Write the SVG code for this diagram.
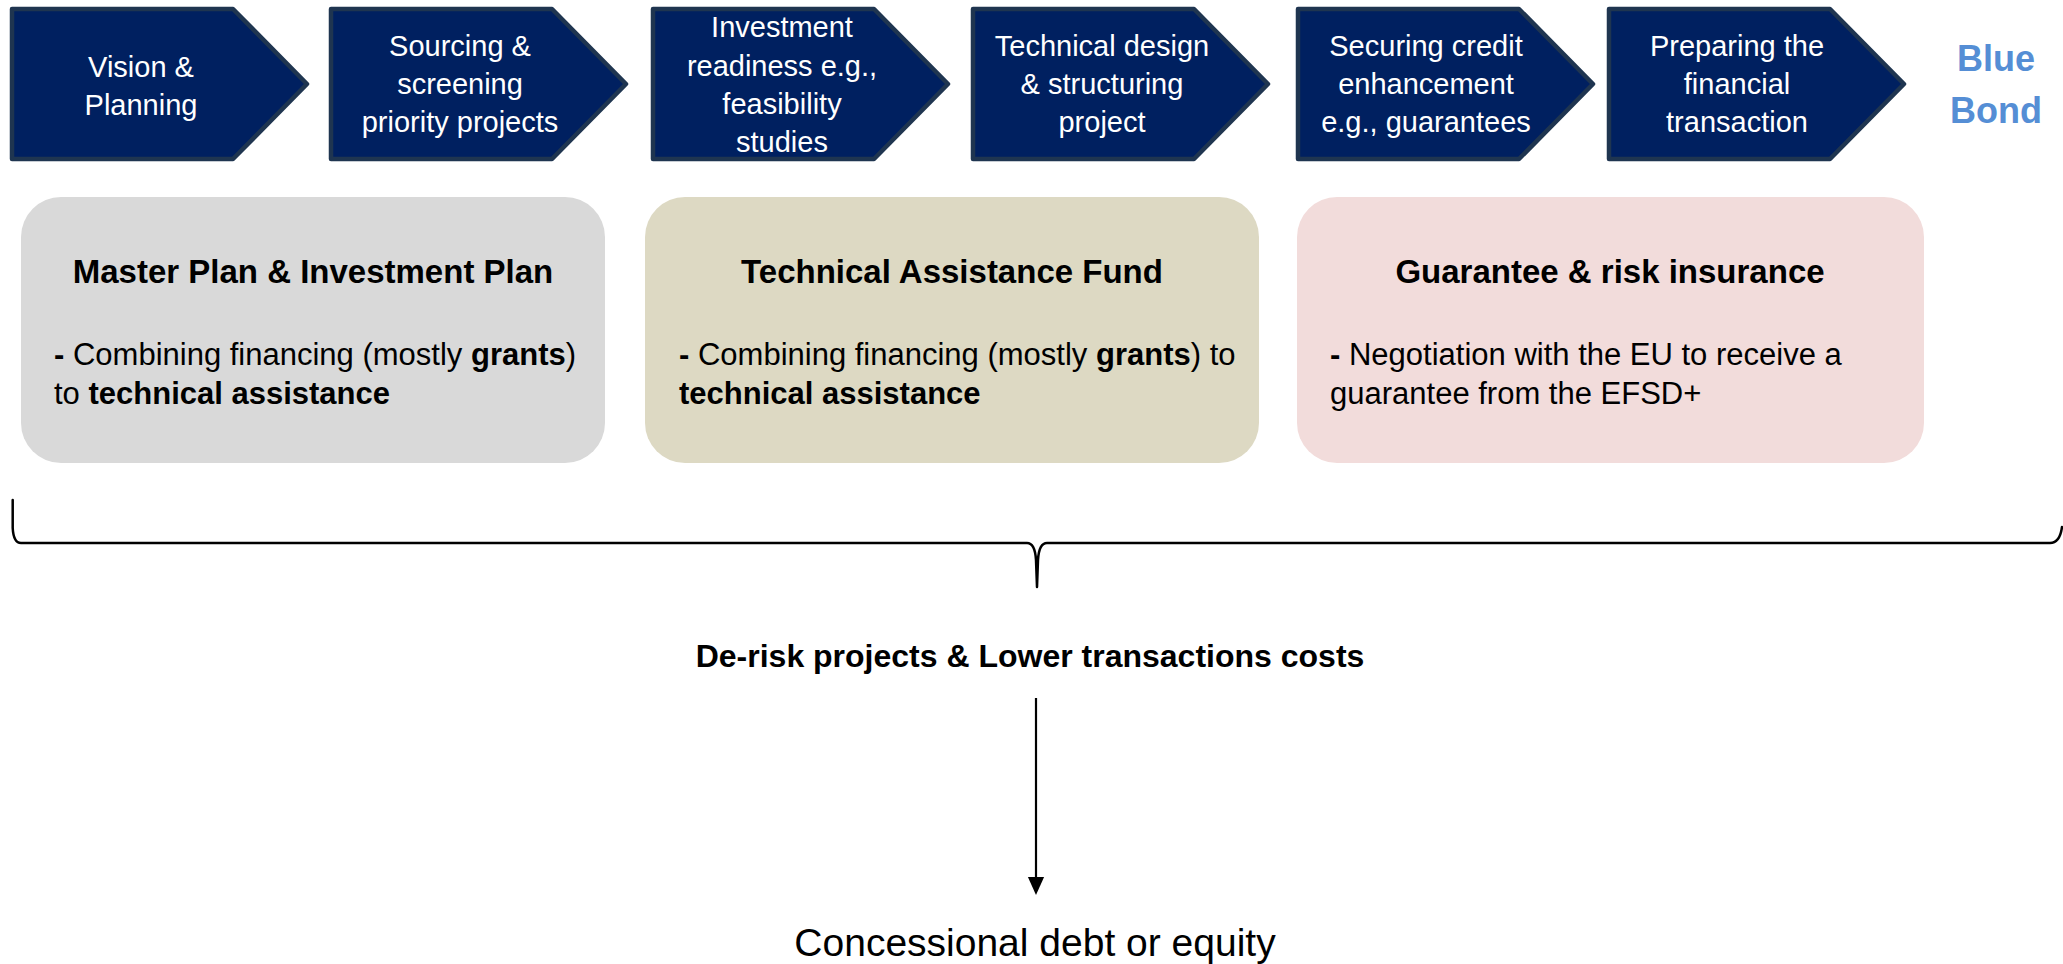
<svg xmlns="http://www.w3.org/2000/svg" width="2063" height="964" viewBox="0 0 2063 964">
<style>
.step{fill:#002060;stroke:#1F3550;stroke-width:4.5;stroke-linejoin:round}
.at{font-family:"Liberation Sans",Arial,sans-serif;font-size:29px;fill:#FFFFFF;text-anchor:middle}
.bb{font-family:"Liberation Sans",Arial,sans-serif;font-size:36px;font-weight:bold;fill:#558ED5;text-anchor:middle}
.ttl{font-family:"Liberation Sans",Arial,sans-serif;font-size:33px;font-weight:bold;fill:#000;text-anchor:middle}
.body{font-family:"Liberation Sans",Arial,sans-serif;font-size:31px;fill:#000}
.b{font-weight:bold}
.ln{fill:none;stroke:#000;stroke-width:2.5;stroke-linecap:round;stroke-linejoin:round}
.mid{font-family:"Liberation Sans",Arial,sans-serif;font-size:32px;font-weight:bold;fill:#000;text-anchor:middle}
.out{font-family:"Liberation Sans",Arial,sans-serif;font-size:39px;fill:#000;text-anchor:middle}
</style>
<defs>
<marker id="ah" markerWidth="18" markerHeight="20" refX="10" refY="9" orient="auto" markerUnits="userSpaceOnUse" viewBox="0 0 20 18">
<path d="M0,0 L20,9 L0,18 Z" fill="#000"/>
</marker>
</defs>

<g id="step1">
<polygon class="step" points="12,9 233,9 307,84 233,159 12,159"/>
<text class="at" x="141" y="77">Vision &amp;</text>
<text class="at" x="141" y="115">Planning</text>
</g>
<g id="step2">
<polygon class="step" points="331,9 552,9 626,84 552,159 331,159"/>
<text class="at" x="460" y="56">Sourcing &amp;</text>
<text class="at" x="460" y="94">screening</text>
<text class="at" x="460" y="132">priority projects</text>
</g>
<g id="step3">
<polygon class="step" points="653,9 874,9 948,84 874,159 653,159"/>
<text class="at" x="782" y="37">Investment</text>
<text class="at" x="782" y="76">readiness e.g.,</text>
<text class="at" x="782" y="114">feasibility</text>
<text class="at" x="782" y="152">studies</text>
</g>
<g id="step4">
<polygon class="step" points="973,9 1194,9 1268,84 1194,159 973,159"/>
<text class="at" x="1102" y="56">Technical design</text>
<text class="at" x="1102" y="94">&amp; structuring</text>
<text class="at" x="1102" y="132">project</text>
</g>
<g id="step5">
<polygon class="step" points="1298,9 1519,9 1593,84 1519,159 1298,159"/>
<text class="at" x="1426" y="56">Securing credit</text>
<text class="at" x="1426" y="94">enhancement</text>
<text class="at" x="1426" y="132">e.g., guarantees</text>
</g>
<g id="step6">
<polygon class="step" points="1609,9 1830,9 1904,84 1830,159 1609,159"/>
<text class="at" x="1737" y="56">Preparing the</text>
<text class="at" x="1737" y="94">financial</text>
<text class="at" x="1737" y="132">transaction</text>
</g>
<g id="blue-bond">
<text class="bb" x="1996" y="71">Blue</text>
<text class="bb" x="1996" y="123">Bond</text>
</g>

<g id="box-master-plan">
<rect x="21" y="197" width="584" height="266" rx="40" ry="40" fill="#D9D9D9"/>
<text class="ttl" x="313" y="283">Master Plan &amp; Investment Plan</text>
<text class="body" x="54" y="365"><tspan class="b">-</tspan> Combining financing (mostly <tspan class="b">grants</tspan>)</text>
<text class="body" x="54" y="404">to <tspan class="b">technical assistance</tspan></text>
</g>
<g id="box-ta-fund">
<rect x="645" y="197" width="614" height="266" rx="40" ry="40" fill="#DDD9C3"/>
<text class="ttl" x="952" y="283">Technical Assistance Fund</text>
<text class="body" x="679" y="365"><tspan class="b">-</tspan> Combining financing (mostly <tspan class="b">grants</tspan>) to</text>
<text class="body b" x="679" y="404">technical assistance</text>
</g>
<g id="box-guarantee">
<rect x="1297" y="197" width="627" height="266" rx="40" ry="40" fill="#F2DCDB"/>
<text class="ttl" x="1610" y="283">Guarantee &amp; risk insurance</text>
<text class="body" x="1330" y="365"><tspan class="b">-</tspan> Negotiation with the EU to receive a</text>
<text class="body" x="1330" y="404">guarantee from the EFSD+</text>
</g>

<g id="connectors">
<path class="ln" d="M12.7,500 L12.7,528 Q13.5,543 21,543 L1027,543 Q1035,543 1036,560 L1037,587 L1038,560 Q1039,543 1047,543 L2050,543 Q2060,543 2062,527"/>
<line x1="1036" y1="698" x2="1036" y2="886" stroke="#000" stroke-width="2.2" marker-end="url(#ah)"/>
</g>

<g id="result">
<text class="mid" x="1030" y="667">De-risk projects &amp; Lower transactions costs</text>
</g>
<g id="outcome">
<text class="out" x="1035" y="956">Concessional debt or equity</text>
</g>
</svg>
